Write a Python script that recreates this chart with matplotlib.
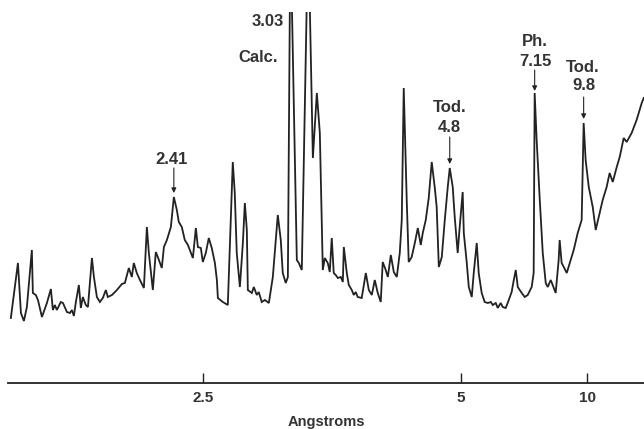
import numpy as np
import matplotlib
matplotlib.use("Agg")
import matplotlib.pyplot as plt

# X-ray diffractogram, Cu K-alpha, 2-theta (deg) vs. intensity (arbitrary units)
WAVELENGTH = 1.5418

two_theta = [
    49.43, 48.93, 48.72, 48.51, 48.30, 47.95, 47.88, 47.67, 47.52, 47.24,
    46.89, 46.61, 46.47, 46.33, 46.19, 45.91, 45.76, 45.48, 45.27, 45.13,
    44.99, 44.85, 44.64, 44.50, 44.36, 44.15, 44.00, 43.72, 43.58, 43.37,
    43.16, 42.95, 42.74, 42.60, 42.31, 41.96, 41.61, 41.40, 41.12, 40.91,
    40.77, 40.56, 40.34, 40.06, 39.85, 39.71, 39.43, 39.22, 39.08, 38.80,
    38.65, 38.44, 38.16, 37.95, 37.74, 37.60, 37.39, 37.18, 36.96, 36.61,
    36.40, 36.26, 36.05, 35.91, 35.70, 35.49, 35.28, 35.06, 34.92, 34.85,
    34.50, 34.15, 33.80, 33.66, 33.52, 33.30, 33.09, 32.95, 32.81, 32.74,
    32.46, 32.32, 32.11, 31.97, 31.76, 31.54, 31.26, 30.98, 30.63, 30.42,
    30.28, 30.07, 29.92, 29.78, 29.64, 29.29, 29.15, 28.94, 28.59, 28.38,
    28.16, 27.88, 27.67, 27.46, 27.32, 27.11, 26.97, 26.83, 26.69, 26.55,
    26.40, 26.19, 26.05, 25.98, 25.77, 25.63, 25.42, 25.28, 25.14, 25.00,
    24.72, 24.43, 24.22, 24.01, 23.80, 23.59, 23.38, 23.24, 23.03, 22.88,
    22.67, 22.46, 22.25, 22.04, 21.90, 21.76, 21.62, 21.55, 21.41, 21.20,
    20.98, 20.77, 20.56, 20.42, 20.21, 20.00, 19.79, 19.58, 19.44, 19.29,
    19.08, 18.87, 18.66, 18.52, 18.31, 18.17, 17.96, 17.82, 17.61, 17.53,
    17.32, 17.18, 16.97, 16.83, 16.62, 16.48, 16.27, 16.06, 15.84, 15.63,
    15.49, 15.28, 15.14, 14.93, 14.79, 14.58, 14.44, 14.16, 14.01, 13.87,
    13.73, 13.45, 13.24, 13.03, 12.75, 12.61, 12.54, 12.40, 12.18, 11.97,
    11.76, 11.62, 11.41, 11.27, 11.06, 10.85, 10.78, 10.64, 10.49, 10.28,
    10.07, 9.79, 9.51, 9.23, 9.09, 8.95, 8.73, 8.45, 8.24, 8.03,
    7.75, 7.47, 7.26, 7.04, 6.76, 6.55, 6.27, 6.06, 5.71, 5.36,
    5.00, 4.86,
]

intensity = [
    65, 120, 70, 62, 76, 133, 90, 88, 83, 66,
    80, 94, 73, 78, 73, 81, 80, 71, 70, 73,
    67, 81, 98, 75, 86, 78, 76, 125, 106, 86,
    81, 85, 93, 86, 88, 93, 99, 100, 115, 106,
    120, 110, 103, 95, 156, 130, 93, 131, 126, 115,
    136, 143, 156, 186, 173, 161, 156, 143, 138, 125,
    155, 136, 135, 121, 130, 145, 135, 120, 103, 85,
    81, 78, 221, 190, 130, 96, 140, 180, 153, 93,
    90, 96, 88, 91, 81, 83, 80, 106, 168, 143,
    110, 100, 106, 380, 380, 123, 120, 113, 380, 380,
    225, 290, 250, 113, 125, 120, 111, 145, 110, 108,
    105, 106, 101, 136, 110, 98, 93, 88, 91, 86,
    85, 110, 93, 88, 103, 90, 81, 121, 113, 106,
    128, 111, 106, 130, 163, 295, 223, 183, 121, 126,
    140, 155, 138, 150, 163, 185, 221, 196, 176, 116,
    126, 163, 196, 215, 196, 166, 130, 156, 191, 150,
    120, 96, 86, 110, 140, 110, 90, 81, 80, 81,
    78, 80, 75, 80, 76, 75, 80, 91, 103, 113,
    96, 90, 86, 88, 96, 110, 290, 243, 183, 130,
    100, 96, 103, 98, 90, 123, 143, 120, 116, 110,
    120, 133, 150, 163, 260, 223, 196, 176, 153, 166,
    183, 196, 210, 201, 216, 226, 245, 241, 250, 263,
    280, 285,
]

tick_d = [2.5, 5, 10]
tick_labels = ["2.5", "5", "10"]

# text lines of the peak labels: (text, 2-theta, intensity level)
label_text = ["3.03", "Calc.", "2.41", "Tod.", "4.8", "Ph.", "7.15", "Tod.", "9.8"]
label_x = [31.33, 32.04, 38.09, 18.52, 18.52, 12.54, 12.47, 9.16, 9.09]
label_y = [361, 326, 224, 276, 255, 342, 322, 316, 297]

# arrows: 2-theta, start level, tip level
arrow_x = [37.95, 18.52, 12.54, 9.09]
arrow_y0 = [215, 246, 313, 286]
arrow_y1 = [190, 219, 292, 264]


def d_to_two_theta(d):
    return 2 * np.degrees(np.arcsin(WAVELENGTH / (2 * np.array(d, dtype=float))))


ink = "#222222"
txt = "#333333"
font = "Liberation Sans"

fig = plt.figure(figsize=(6.44, 4.29), dpi=100)
ax = fig.add_axes([8 / 644, 46 / 429, 636 / 644, 371 / 429])

ax.plot(two_theta, intensity, color=ink, lw=1.3, solid_joinstyle="miter")
ax.set_xlim(49.63, 4.84)
ax.set_ylim(0, 371)

for s in ["top", "right", "left"]:
    ax.spines[s].set_visible(False)
ax.spines["bottom"].set_linewidth(1.3)
ax.spines["bottom"].set_color(ink)
ax.set_yticks([])
ax.set_xticks(d_to_two_theta(tick_d))
ax.set_xticklabels(tick_labels, fontfamily=font, fontweight="bold",
                   fontsize=11, color=txt)
ax.tick_params(axis="x", direction="in", length=7, width=1.0, color=ink, pad=6)
ax.set_xlabel("Angstroms", fontfamily=font, fontweight="bold", fontsize=10.5,
              color=txt, labelpad=7)

for t, x, y in zip(label_text, label_x, label_y):
    ax.text(x, y, t, ha="center", va="center", fontfamily=font,
            fontweight="bold", fontsize=12, color=txt)

for x, y0, y1 in zip(arrow_x, arrow_y0, arrow_y1):
    ax.annotate("", xy=(x, y1), xytext=(x, y0),
                arrowprops=dict(arrowstyle="-|>", color=ink, lw=0.8,
                                mutation_scale=7, shrinkA=0, shrinkB=0))

fig.savefig("out.png", dpi=100)
